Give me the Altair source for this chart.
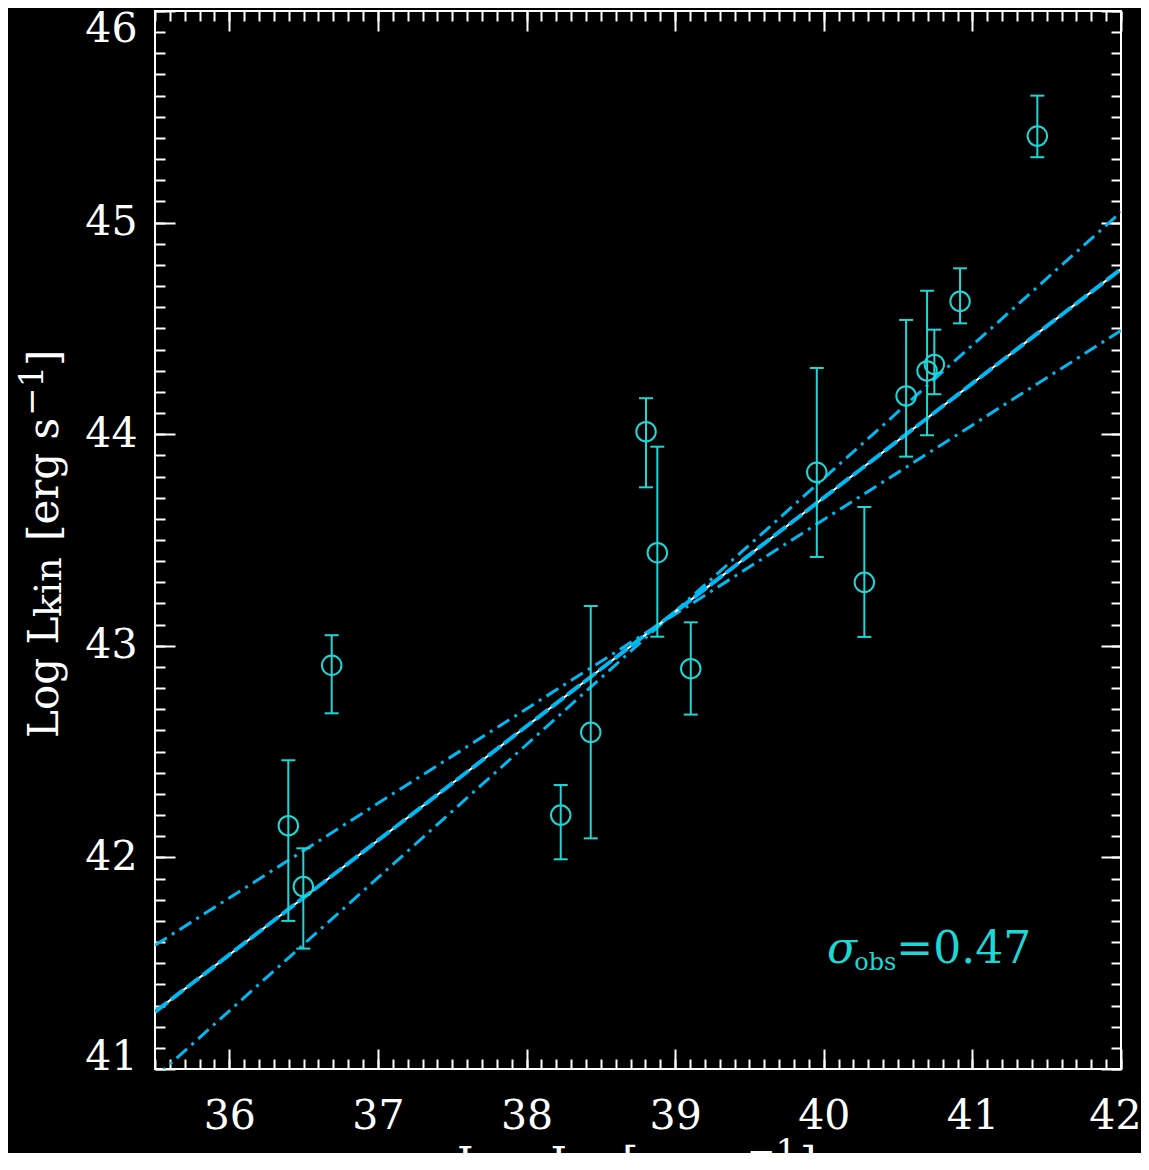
import altair as alt
import pandas as pd

# ---- data ----
log_lr = [36.397, 36.498, 36.689, 38.230, 38.432, 38.804, 38.880, 39.105,
          39.953, 40.273, 40.554, 40.695, 40.744, 40.917, 41.437]
log_lkin = [42.150, 41.862, 42.908, 42.200, 42.591, 44.012, 43.440, 42.892,
            43.820, 43.300, 44.181, 44.299, 44.330, 44.628, 45.409]
err_hi = [42.459, 42.043, 43.050, 42.342, 43.188, 44.170, 43.941, 43.111,
          44.313, 43.656, 44.540, 44.678, 44.494, 44.784, 45.600]
err_lo = [41.700, 41.569, 42.681, 41.991, 42.090, 43.749, 43.043, 42.675,
          43.420, 43.042, 43.894, 43.995, 44.189, 44.524, 45.309]

fit_x = [35.5, 42.0]
fit_y = [41.27, 44.78]        # best fit
steep_y = [40.96, 45.05]      # steeper bound
flat_y = [41.585, 44.49]      # flatter bound

x_major = [36, 37, 38, 39, 40, 41, 42]
y_major = [41, 42, 43, 44, 45, 46]
x_minor = [round(35.5 + 0.1 * i, 1) for i in range(66)]
y_minor = [round(41.0 + 0.1 * i, 1) for i in range(51)]

sigma_text = ["σ", "obs", "=0.47"]
sigma_x = [40.022, 40.205, 40.488]
sigma_y = [41.501, 41.470, 41.501]

# ---- styling ----
W, H = 966, 1058
FONT = "DejaVu Serif"
CYAN = "#1fd6d6"
BLUE = "#00b8f2"

pts = pd.DataFrame({"x": log_lr, "y": log_lkin, "hi": err_hi, "lo": err_lo})
caps = pd.DataFrame({"x": log_lr * 2, "y": err_lo + err_hi})
fits = pd.DataFrame({"x": fit_x, "fit": fit_y, "steep": steep_y, "flat": flat_y})

xs = alt.Scale(domain=[35.5, 42], nice=False, zero=False)
ys = alt.Scale(domain=[41, 46], nice=False, zero=False)


def tick_axis(orient, values, size, offset):
    return alt.Axis(orient=orient, values=values, tickSize=size, offset=offset,
                    labels=False, domain=False, grid=False, title=None,
                    ticks=True, tickColor="white", tickWidth=2)


def y_label_axis(values, flush_offset):
    return alt.Axis(orient="left", values=values, format="d", ticks=False,
                    domain=False, grid=False, labelFlush=True,
                    labelFlushOffset=flush_offset, labelPadding=18, labelFont=FONT,
                    labelFontSize=41, labelColor="white", title=None)


x_lab_axis = alt.Axis(orient="bottom", values=x_major, format="d", ticks=False,
                      domain=False, grid=False, labelFlush=True, labelFlushOffset=20,
                      labelPadding=27, labelFont=FONT, labelFontSize=41,
                      labelColor="white", title=None)

# fit lines
l_fit_w = alt.Chart(fits).mark_line(color="white", strokeWidth=2, clip=True).encode(
    x=alt.X("x:Q", scale=xs, axis=tick_axis("bottom", x_major, 20, -H)),
    y=alt.Y("fit:Q", scale=ys, axis=tick_axis("left", y_major, 20, -W)))
l_fit_b = alt.Chart(fits).mark_line(color=BLUE, strokeWidth=4, strokeDash=[16, 4], clip=True).encode(
    x=alt.X("x:Q", scale=xs, axis=tick_axis("bottom", x_minor, 10, -H)),
    y=alt.Y("fit:Q", scale=ys, axis=tick_axis("left", y_minor, 10, -W)))
l_steep = alt.Chart(fits).mark_line(color=BLUE, strokeWidth=3, strokeDash=[14, 6, 3, 6], clip=True).encode(
    x=alt.X("x:Q", scale=xs, axis=None),
    y=alt.Y("steep:Q", scale=ys, axis=y_label_axis(y_major[-1:], 2)))
l_flat = alt.Chart(fits).mark_line(color=BLUE, strokeWidth=3, strokeDash=[14, 6, 3, 6], clip=True).encode(
    x=alt.X("x:Q", scale=xs, axis=None),
    y=alt.Y("flat:Q", scale=ys, axis=None))

# error bars, caps, circles
l_err = alt.Chart(pts).mark_rule(color=CYAN, strokeWidth=2).encode(
    x=alt.X("x:Q", scale=xs, axis=x_lab_axis),
    y=alt.Y("lo:Q", scale=ys, axis=y_label_axis(y_major[:-1], 9)),
    y2="hi:Q")
l_caps = alt.Chart(caps).mark_tick(orient="horizontal", size=14, thickness=2, color=CYAN, opacity=1).encode(
    x=alt.X("x:Q", scale=xs, axis=tick_axis("top", x_major, 20, -H)),
    y=alt.Y("y:Q", scale=ys, axis=tick_axis("right", y_major, 20, -W)))
l_pts = alt.Chart(pts).mark_point(shape="circle", filled=False, size=380, strokeWidth=2,
                                  color=CYAN, opacity=1).encode(
    x=alt.X("x:Q", scale=xs, axis=tick_axis("top", x_minor, 10, -H)),
    y=alt.Y("y:Q", scale=ys, axis=tick_axis("right", y_minor, 10, -W)))


# sigma annotation (data coordinates)
def ann(i, size, italic=False):
    d = pd.DataFrame({"x": [sigma_x[i]], "y": [sigma_y[i]], "t": [sigma_text[i]]})
    return alt.Chart(d).mark_text(font=FONT, fontSize=size, color=CYAN, align="left",
                                  baseline="alphabetic",
                                  fontStyle="italic" if italic else "normal").encode(
        x=alt.X("x:Q", scale=xs, axis=None), y=alt.Y("y:Q", scale=ys, axis=None), text="t:N")


l_sig = ann(0, 44, True)
l_obs = ann(1, 24)
l_val = ann(2, 44)


# axis titles composed of pieces (pixel positions relative to the plot area)
def piece(text, x, y, size, angle=0):
    return alt.Chart(pd.DataFrame({"a": [0]})).mark_text(
        text=text, font=FONT, fontSize=size, color="white", align="left",
        baseline="alphabetic", angle=angle).encode(x=alt.value(x), y=alt.value(y))


ytitle = [
    piece("Log L", -97, 727, 42, 270),
    piece("kin", -94, 606, 38, 270),
    piece("[erg s", -97, 530, 42, 270),
    piece("−1", -112, 405, 34, 270),
    piece("]", -97, 355, 42, 270),
]
xtitle = [
    piece("Log L", 302, 1166, 42),
    piece("R", 423, 1172, 34),
    piece("[erg s", 467, 1166, 42),
    piece("−1", 592, 1152, 34),
    piece("]", 645, 1166, 42),
]

chart = alt.layer(
    l_steep, l_flat, l_fit_w, l_fit_b, l_err, l_caps, l_pts, l_sig, l_obs, l_val,
    *ytitle, *xtitle
).resolve_axis(x="independent", y="independent").properties(
    width=W, height=H,
    autosize=alt.AutoSizeParams(type="none"),
    padding={"left": 147, "top": 3, "right": 20, "bottom": 84},
).configure(background="black").configure_view(stroke="white", strokeWidth=2)

chart.save("out.html", embed_options={"renderer": "svg", "actions": False})
